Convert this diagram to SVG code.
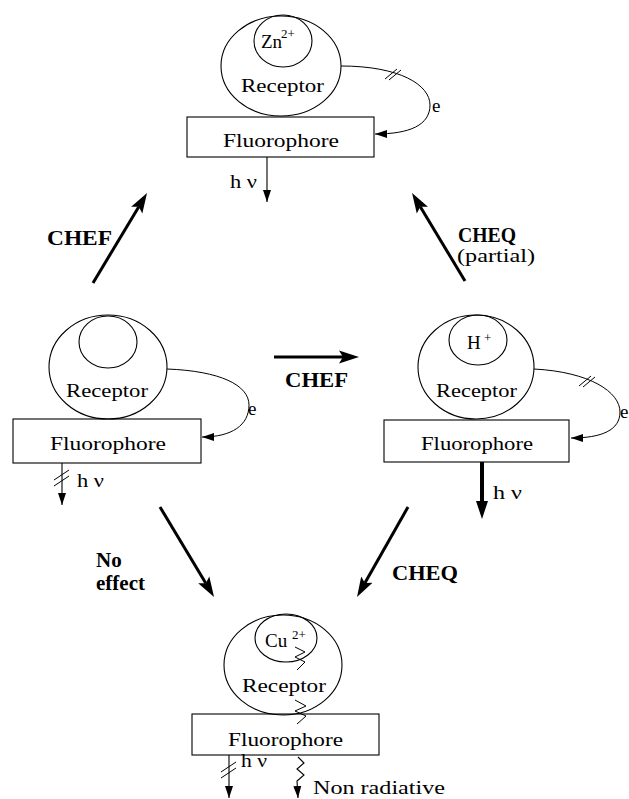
<svg xmlns="http://www.w3.org/2000/svg" width="629" height="799" viewBox="0 0 629 799">
<style>
.shape{fill:none;stroke:#000;stroke-width:1.1}
.t{font-family:"Liberation Serif","Times New Roman",serif;font-size:19px;fill:#000}
.sup{font-family:"Liberation Serif","Times New Roman",serif;font-size:13px;fill:#000}
.lab{font-family:"Liberation Serif","Times New Roman",serif;font-size:21px;font-weight:bold;fill:#000}
.big{stroke:#000;stroke-width:3;fill:none;marker-end:url(#mBig)}
.thin{stroke:#000;stroke-width:1.1;fill:none;marker-end:url(#mSmall)}
.curve{stroke:#000;stroke-width:1;fill:none;marker-end:url(#mCurve)}
.slash{stroke:#000;stroke-width:1;fill:none}
</style>
<defs>
<marker id="mBig" markerUnits="userSpaceOnUse" markerWidth="22" markerHeight="16" viewBox="0 0 22 16" refX="4" refY="8" orient="auto"><path d="M0,1.5 L20,8 L0,14.5 L4,8 z" fill="#000"/></marker>
<marker id="mSmall" markerUnits="userSpaceOnUse" markerWidth="14" markerHeight="10" viewBox="0 0 14 10" refX="12" refY="5" orient="auto"><path d="M0,1 L12,5 L0,9 z" fill="#000"/></marker>
<marker id="mCurve" markerUnits="userSpaceOnUse" markerWidth="14" markerHeight="10" viewBox="0 0 14 10" refX="12" refY="5" orient="auto"><path d="M0,1 L12,5 L0,9 z" fill="#000"/></marker>
<marker id="mThick" markerUnits="userSpaceOnUse" markerWidth="22" markerHeight="16" viewBox="0 0 22 16" refX="4" refY="8" orient="auto"><path d="M0,2 L18,8 L0,14 z" fill="#000"/></marker>
</defs>

<g id="node-zn">
<ellipse class="shape" cx="281" cy="66" rx="60" ry="50"/>
<ellipse class="shape" cx="283" cy="41" rx="29" ry="26"/>
<text class="t" x="261" y="48">Zn</text>
<text class="sup" x="281" y="38">2+</text>
<text class="t" x="241" y="92" textLength="83" lengthAdjust="spacingAndGlyphs">Receptor</text>
<rect class="shape" x="187" y="117" width="187" height="40" fill="#fff"/>
<text class="t" x="223" y="147" textLength="116" lengthAdjust="spacingAndGlyphs">Fluorophore</text>
<path class="curve" d="M341,66 C400,66 430,85 430,105 C430,125 410,134 375,134"/>
<path class="slash" d="M385,79 L397,69 M389,80 L401,70"/>
<text class="t" x="432" y="112">e</text>
<line class="thin" x1="267" y1="157" x2="267" y2="202"/>
<text class="t" x="230" y="188" textLength="27" lengthAdjust="spacingAndGlyphs">h ν</text>
</g>

<g id="node-free">
<ellipse class="shape" cx="108" cy="367" rx="59" ry="52"/>
<ellipse class="shape" cx="108" cy="342" rx="29" ry="26"/>
<text class="t" x="66" y="397" textLength="82" lengthAdjust="spacingAndGlyphs">Receptor</text>
<rect class="shape" x="13" y="419" width="188" height="44"/>
<text class="t" x="50" y="450" textLength="116" lengthAdjust="spacingAndGlyphs">Fluorophore</text>
<path class="curve" d="M167,369 C220,371 249,385 249,405 C249,425 232,437 202,437"/>
<text class="t" x="248" y="415">e</text>
<line class="thin" x1="62" y1="463" x2="62" y2="505"/>
<path class="slash" d="M54,480 L69,470 M54,486 L69,476"/>
<text class="t" x="77" y="487" textLength="27" lengthAdjust="spacingAndGlyphs">h ν</text>
</g>

<g id="node-h">
<ellipse class="shape" cx="476" cy="367" rx="58" ry="52"/>
<ellipse class="shape" cx="478" cy="340" rx="29" ry="25"/>
<text class="t" x="467" y="349">H</text>
<text class="sup" x="484" y="342">+</text>
<text class="t" x="436" y="397" textLength="81" lengthAdjust="spacingAndGlyphs">Receptor</text>
<rect class="shape" x="384" y="420" width="185" height="42"/>
<text class="t" x="421" y="450" textLength="112" lengthAdjust="spacingAndGlyphs">Fluorophore</text>
<path class="curve" d="M534,369 C590,372 620,392 620,412 C620,430 602,438 571,438"/>
<path class="slash" d="M579,386 L591,376 M583,387 L595,377"/>
<text class="t" x="620" y="418">e</text>
<line x1="482" y1="462" x2="482" y2="505" stroke="#000" stroke-width="4" marker-end="url(#mThick)"/>
<text class="t" x="493" y="499" textLength="29" lengthAdjust="spacingAndGlyphs">h ν</text>
</g>

<g id="node-cu">
<ellipse class="shape" cx="283" cy="665" rx="59" ry="50"/>
<ellipse class="shape" cx="286" cy="638" rx="31" ry="24"/>
<text class="t" x="265" y="647">Cu</text>
<text class="sup" x="292" y="639">2+</text>
<text class="t" x="242" y="692" textLength="84" lengthAdjust="spacingAndGlyphs">Receptor</text>
<rect class="shape" x="192" y="714" width="187" height="41"/>
<text class="t" x="228" y="746" textLength="115" lengthAdjust="spacingAndGlyphs">Fluorophore</text>
<path class="slash" d="M295,647 L305,652 L295,657 L305,662 L297,670"/>
<path class="slash" d="M295,700 L306,706 L295,711 L306,716 L297,724"/>
<line class="thin" x1="229" y1="755" x2="229" y2="798"/>
<path class="slash" d="M221,772 L236,762 M221,778 L236,768"/>
<text class="t" x="241" y="767" textLength="26" lengthAdjust="spacingAndGlyphs">h ν</text>
<path class="thin" d="M298,757 L304,763 L297,769 L304,775 L297,781 L298,798"/>
<text class="t" x="313" y="794" textLength="132" lengthAdjust="spacingAndGlyphs">Non radiative</text>
</g>

<g id="connectors">
<line class="big" x1="93" y1="283" x2="138.8" y2="206.7"/>
<line class="big" x1="465" y1="281" x2="420.3" y2="206.7"/>
<line class="big" x1="274" y1="357" x2="343" y2="357"/>
<line class="big" x1="160" y1="507" x2="205.8" y2="583.3"/>
<line class="big" x1="408" y1="507" x2="364.9" y2="583.1"/>
</g>

<g id="labels">
<text class="lab" x="47" y="245" textLength="65" lengthAdjust="spacingAndGlyphs">CHEF</text>
<text class="lab" x="458" y="242" textLength="58" lengthAdjust="spacingAndGlyphs">CHEQ</text>
<text class="t" x="457" y="262" font-size="21" textLength="78" lengthAdjust="spacingAndGlyphs">(partial)</text>
<text class="lab" x="285" y="387" textLength="63" lengthAdjust="spacingAndGlyphs">CHEF</text>
<text class="lab" x="96" y="567">No</text>
<text class="lab" x="96" y="590" textLength="49" lengthAdjust="spacingAndGlyphs">effect</text>
<text class="lab" x="392" y="580" textLength="66" lengthAdjust="spacingAndGlyphs">CHEQ</text>
</g>
</svg>
